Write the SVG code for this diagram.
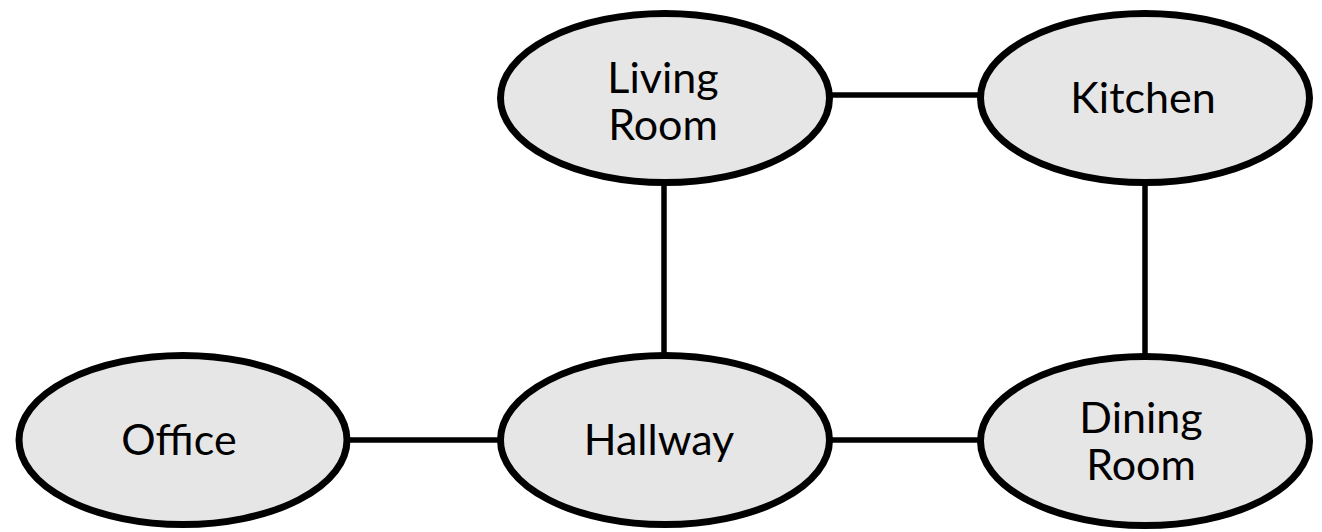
<svg xmlns="http://www.w3.org/2000/svg" width="1322" height="532" viewBox="0 0 1322 532">
  <style>
    .room { fill: #e7e6e6; stroke: #000; stroke-width: 7; }
    .link { stroke: #000; stroke-width: 5.5; fill: none; }
    .label { font-family: Lato, "Open Sans", sans-serif; font-size: 43px; fill: #000; text-anchor: middle; }
  </style>
  <rect width="1322" height="532" fill="#fff"/>

  <!-- doorways between rooms -->
  <g id="connectors">
    <line class="link" x1="830" y1="95" x2="981" y2="95"/>
    <line class="link" x1="664" y1="182" x2="664" y2="358"/>
    <line class="link" x1="1145" y1="182" x2="1145" y2="358"/>
    <line class="link" x1="347" y1="440" x2="500" y2="440"/>
    <line class="link" x1="830" y1="440" x2="981" y2="440"/>
  </g>

  <g id="living-room">
    <ellipse class="room" cx="665" cy="98" rx="164.5" ry="84.5"/>
    <text class="label" x="663" y="93">Living</text>
    <text class="label" x="663" y="140">Room</text>
  </g>

  <g id="kitchen">
    <ellipse class="room" cx="1145" cy="98" rx="164.5" ry="84.5"/>
    <text class="label" x="1143" y="113">Kitchen</text>
  </g>

  <g id="office">
    <ellipse class="room" cx="183" cy="440" rx="164" ry="84.5"/>
    <text class="label" x="179" y="455">Office</text>
  </g>

  <g id="hallway">
    <ellipse class="room" cx="665" cy="440" rx="164.5" ry="84.5"/>
    <text class="label" x="659" y="455">Hallway</text>
  </g>

  <g id="dining-room">
    <ellipse class="room" cx="1145" cy="441" rx="164.5" ry="84.5"/>
    <text class="label" x="1141" y="433">Dining</text>
    <text class="label" x="1141" y="480">Room</text>
  </g>
</svg>
